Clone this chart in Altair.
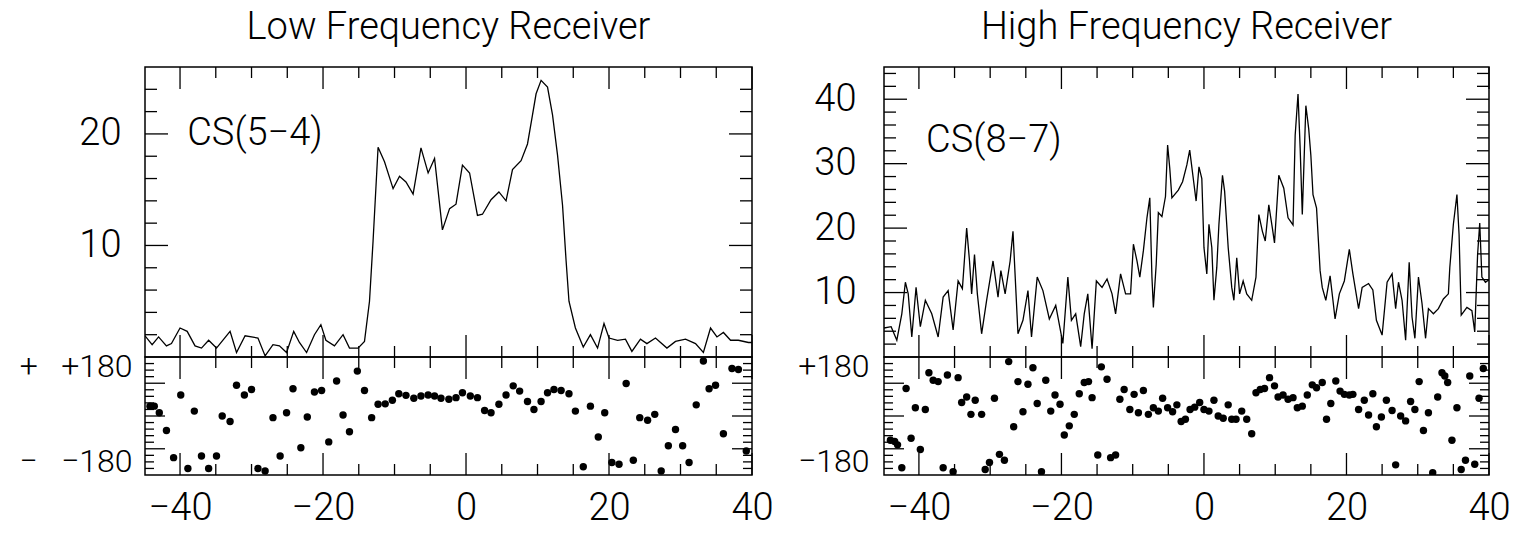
import altair as alt
import pandas as pd

FONT = "Roboto"
FW = 300

# ---------------- Low Frequency Receiver : CS(5-4) ----------------
lf_vel = [-44.9, -43.9, -43.0, -41.9, -41.2, -40.0, -39.0, -37.9, -37.0, -36.0,
          -34.9, -33.0, -32.1, -30.9, -29.1, -28.1, -27.0, -26.1, -25.1, -24.1,
          -23.3, -22.3, -21.2, -20.3, -19.6, -18.4, -17.2, -16.3, -15.1, -14.2,
          -13.5, -13.0, -12.3, -11.4, -10.2, -9.3, -8.4, -7.4, -6.3, -5.3,
          -4.4, -3.3, -2.3, -1.4, -0.5, 0.5, 1.6, 2.3, 3.5, 4.6,
          5.6, 6.5, 7.7, 8.6, 9.3, 9.8, 10.5, 11.4, 12.1, 12.8,
          13.5, 14.0, 14.4, 15.3, 16.4, 17.4, 18.4, 19.3, 20.0, 21.2,
          22.3, 23.2, 24.4, 25.3, 26.5, 28.1, 29.3, 30.7, 32.1, 33.2,
          34.2, 35.1, 36.0, 37.0, 38.1, 39.5, 40.0]
lf_temp = [1.9, 1.1, 1.8, 1.0, 1.2, 2.6, 2.3, 1.0, 0.8, 1.5,
           0.8, 2.3, 0.4, 1.9, 1.7, 0.1, 1.1, 1.0, 0.4, 2.3,
           1.3, 0.4, 2.0, 2.9, 1.5, 1.0, 2.0, 0.8, 0.8, 1.4,
           5.0, 10.4, 18.8, 17.5, 15.1, 16.2, 15.7, 14.6, 18.75, 16.5,
           17.8, 11.4, 13.3, 13.7, 17.2, 16.5, 12.7, 12.8, 14.1, 14.8,
           14.0, 16.8, 17.6, 19.1, 21.7, 23.6, 24.8, 24.2, 21.7, 18.1,
           13.6, 8.6, 5.0, 2.6, 0.9, 2.0, 0.8, 3.0, 1.7, 1.5,
           1.6, 0.5, 1.6, 1.2, 1.7, 0.8, 1.4, 1.6, 1.2, 0.4,
           2.6, 1.8, 2.2, 1.5, 1.5, 1.3, 1.3]

lf_ph_vel = [-44.2, -43.6, -42.9, -41.9, -40.9, -39.9, -38.9, -38.0, -37.0, -36.0,
             -34.9, -34.1, -33.0, -32.1, -31.0, -30.0, -29.1, -28.1, -27.0, -26.0,
             -25.1, -24.2, -23.1, -22.2, -21.2, -20.2, -19.2, -18.1, -17.2, -16.3,
             -15.2, -14.2, -13.2, -12.3, -11.3, -10.3, -9.4, -8.4, -7.3, -6.3,
             -5.3, -4.4, -3.5, -2.4, -1.4, -0.5, 0.6, 1.6, 2.6, 3.5,
             4.6, 5.6, 6.6, 7.5, 8.6, 9.5, 10.5, 11.4, 12.3, 13.3,
             14.4, 15.3, 16.4, 17.4, 18.5, 19.4, 20.4, 21.4, 22.4, 23.4,
             24.3, 25.4, 26.4, 27.3, 28.3, 29.3, 30.3, 31.2, 32.2, 33.2,
             34.0, 34.9, 36.0, 37.2, 38.1, 39.2]
lf_phase = [30, 30, 10, -44, -127, 64, -160, 15, -122, -160,
            -122, 0, -17, 94, 64, 81, -160, -168, -5, -122,
            10, 83, -97, -3, 73, 78, -79, 107, 3, -48,
            137, 78, -5, 36, 37, 48, 68, 63, 54, 61,
            64, 61, 54, 51, 56, 71, 61, 56, 17, 10,
            36, 64, 92, 76, 44, 20, 44, 71, 81, 78,
            68, 15, -155, 30, -64, 10, -142, -147, 99, -135,
            -5, -13, 5, -168, -91, -41, -91, -142, 34, 168,
            83, 94, -54, 145, 142, -107]

# ---------------- High Frequency Receiver : CS(8-7) ----------------
hf_vel = [-44.9, -43.9, -43.1, -42.4, -41.9, -41.5, -41.0, -40.4, -39.8, -39.1,
          -38.2, -37.3, -36.6, -35.9, -35.2, -34.5, -33.9, -33.3, -32.9, -32.6,
          -32.2, -31.8, -31.2, -30.5, -29.6, -28.9, -28.5, -27.9, -27.2, -26.8,
          -26.1, -25.4, -24.7, -24.2, -23.4, -22.6, -21.7, -20.8, -19.8, -19.1,
          -18.6, -18.0, -17.3, -16.8, -16.3, -15.7, -15.1, -14.3, -13.6, -12.9,
          -12.4, -11.7, -11.0, -10.3, -9.9, -9.4, -9.0, -8.5, -8.0, -7.6,
          -7.3, -7.1, -6.7, -6.4, -5.9, -5.4, -5.1, -4.8, -4.5, -3.6,
          -3.0, -2.4, -2.0, -1.5, -1.1, -0.7, -0.3, 0.0, 0.4, 0.7,
          1.1, 1.4, 1.8, 2.1, 2.6, 2.9, 3.4, 3.9, 4.2, 4.6,
          5.0, 5.5, 6.0, 6.7, 7.3, 7.7, 8.2, 8.6, 9.1, 9.6,
          9.9, 10.5, 11.2, 11.8, 12.5, 12.8, 13.2, 13.5, 13.8, 14.3,
          14.7, 15.0, 15.3, 15.8, 16.3, 16.6, 17.1, 17.7, 18.1, 18.4,
          19.0, 19.7, 20.4, 20.9, 21.7, 22.2, 23.1, 23.7, 24.2, 25.0,
          25.7, 26.4, 26.9, 27.3, 27.8, 28.3, 28.8, 29.2, 29.6, 30.1,
          30.6, 31.1, 31.5, 32.2, 32.9, 33.6, 34.3, 34.5, 35.0, 35.5,
          35.8, 36.1, 36.9, 37.6, 38.0, 38.4, 38.7, 39.0, 39.5, 40.0]
hf_temp = [4.5, 4.7, 2.6, 6.7, 11.6, 9.8, 3.1, 10.8, 4.7, 8.8,
           6.7, 3.1, 9.3, 10.3, 4.2, 11.8, 10.6, 20.0, 14.9, 9.8,
           15.9, 9.8, 3.6, 8.8, 14.9, 9.3, 13.4, 9.8, 14.9, 19.5,
           3.6, 5.7, 10.3, 3.1, 12.4, 10.3, 5.9, 8.0, 2.1, 12.4,
           5.7, 6.7, 1.6, 6.7, 9.8, 1.3, 11.8, 10.8, 12.1, 9.8,
           6.7, 12.9, 9.8, 9.8, 17.5, 14.9, 12.4, 16.5, 21.6, 24.7,
           12.4, 7.7, 14.4, 22.4, 21.8, 24.9, 32.9, 29.3, 24.7, 25.9,
           27.2, 29.8, 32.1, 27.7, 24.2, 29.5, 27.7, 17.0, 12.9, 20.6,
           17.0, 8.8, 13.9, 20.6, 28.2, 25.7, 17.0, 10.8, 8.8, 15.4,
           9.8, 11.8, 9.8, 8.8, 12.4, 22.1, 19.5, 18.0, 23.6, 20.0,
           17.7, 28.2, 26.2, 21.6, 20.5, 34.4, 40.8, 32.4, 22.1, 39.0,
           35.4, 31.3, 25.2, 23.1, 13.4, 10.8, 8.8, 12.6, 8.8, 5.9,
           9.8, 11.8, 16.7, 12.9, 7.5, 10.8, 11.4, 10.4, 5.7, 3.4,
           11.6, 12.9, 7.5, 11.6, 8.8, 2.6, 14.7, 6.2, 2.9, 12.4,
           8.3, 2.9, 7.5, 6.7, 7.5, 9.0, 9.8, 13.9, 20.6, 25.2,
           19.0, 6.5, 7.7, 7.2, 3.9, 15.9, 20.8, 12.4, 11.6, 12.0]

hf_ph_vel = [-44.0, -43.4, -43.0, -42.4, -41.8, -41.1, -40.5, -39.8, -39.1, -38.6,
             -38.0, -37.3, -36.6, -36.0, -35.2, -34.5, -34.0, -33.3, -32.7, -32.1,
             -31.2, -30.7, -30.1, -29.4, -28.7, -28.0, -27.4, -26.7, -26.1, -25.4,
             -24.7, -24.0, -23.4, -22.8, -22.2, -21.5, -20.9, -20.2, -19.6, -18.9,
             -18.2, -17.5, -16.8, -16.2, -15.7, -14.9, -14.4, -13.6, -13.1, -12.4,
             -11.8, -11.2, -10.4, -9.8, -9.2, -8.5, -7.8, -7.1, -6.4, -5.8,
             -5.1, -4.4, -3.8, -3.2, -2.6, -1.95, -1.3, -0.6, 0.0, 0.7,
             1.4, 2.0, 2.7, 3.4, 3.9, 4.5, 5.3, 6.0, 6.7, 7.3,
             7.9, 8.5, 9.2, 9.9, 10.4, 11.1, 11.8, 12.5, 13.1, 13.8,
             14.5, 15.2, 15.8, 16.6, 17.2, 17.8, 18.5, 19.1, 19.7, 20.4,
             20.9, 21.7, 22.5, 23.1, 23.7, 24.2, 24.9, 25.6, 26.4, 26.9,
             27.6, 28.3, 29.0, 29.6, 30.2, 30.8, 31.5, 32.1, 32.8, 33.4,
             33.8, 34.2, 34.8, 35.5, 36.1, 36.7, 37.3, 38.0, 38.6, 39.2]
hf_phase = [-74, -78, -88, -158, 84, -68, 25, -102, 20, 132,
            109, 105, -158, 125, -170, 117, 41, 58, 5, 48,
            5, -163, -142, 54, -117, -135, 166, -33, 105, 13,
            97, 147, 38, -170, 109, 15, 64, 36, -58, -30,
            5, 68, 102, 105, 56, -119, 150, 112, -127, -119,
            51, 81, 20, 66, 10, 78, 5, 25, 15, 54,
            25, 13, 34, -17, -10, 20, 27, 41, 20, 15,
            48, 0, -7, 34, -10, -10, 15, -10, -54, 71,
            81, 84, 117, 92, 58, 64, 51, 56, 25, 30,
            64, 95, 86, 102, -10, 38, 107, 76, 66, 64,
            66, 20, 48, 3, 68, -33, -3, 48, 17, -149,
            0, -15, 44, 20, 105, -44, 10, -173, 58, 132,
            122, 102, -74, 25, -163, -135, 122, -147, 54, 145]

# ---------------- axes / ticks ----------------
X_DOMAIN = [-44.9, 40.0]
X_LABELS = [-40, -20, 0, 20, 40]
X_MAJOR = [-40, -20, 0, 20, 40]
X_MINOR = [-35, -30, -25, -15, -10, -5, 5, 10, 15, 25, 30, 35]

PH_DOMAIN = [-180, 180]
PH_LABELS = [-180, 180]
PH_MAJOR = [-100, 0, 100]
PH_MINOR = [-160, -140, -120, -80, -60, -40, -20, 20, 40, 60, 80, 120, 140, 160]

LF_DOMAIN = [0, 26]
LF_LABELS = [10, 20]
LF_MAJOR = [10, 20]
LF_MINOR = [2, 4, 6, 8, 12, 14, 16, 18, 22, 24]

HF_DOMAIN = [0, 45]
HF_LABELS = [10, 20, 30, 40]
HF_MAJOR = [10, 20, 30, 40]
HF_MINOR = [2, 4, 6, 8, 12, 14, 16, 18, 22, 24, 26, 28, 32, 34, 36, 38, 42, 44]

W_L, W_R, H_UP, H_LO = 607, 605, 290, 118
TICK_W = 1.3


def tick_frame(xdom, ydom, W, H, xmaj, xmin, ymaj, ymin,
               xl_maj, xl_min, yl_maj, yl_min, yname):
    """Inward tick marks on all four edges, expressed in data units."""
    x0, x1 = xdom
    y0, y1 = ydom
    dy = (y1 - y0) / H      # data units per pixel (vertical)
    dx = (x1 - x0) / W      # data units per pixel (horizontal)
    rows = []
    for vals, ln in ((xmaj, xl_maj), (xmin, xl_min)):
        for v in vals:
            rows.append((v, v, y1, y1 - ln * dy))   # top edge
            rows.append((v, v, y0, y0 + ln * dy))   # bottom edge
    for vals, ln in ((ymaj, yl_maj), (ymin, yl_min)):
        for v in vals:
            rows.append((x0, x0 + ln * dx, v, v))   # left edge
            rows.append((x1, x1 - ln * dx, v, v))   # right edge
    return pd.DataFrame(rows, columns=["vel", "vel2", yname, yname + "2"])


def panel(title, label, label_y, vel, temp, ph_vel, phase, ydom, ylabels,
          ymajor, yminor, W, up_pad, lo_pad, lo_expr):
    xs = alt.Scale(domain=X_DOMAIN, nice=False, zero=False)
    ys = alt.Scale(domain=ydom, nice=False, zero=False)
    ps = alt.Scale(domain=PH_DOMAIN, nice=False, zero=False)

    ya = alt.Axis(values=ylabels, ticks=False, domain=False, grid=False,
                  title=None, labelPadding=up_pad, labelFontSize=38,
                  format="d")
    pa = alt.Axis(values=PH_LABELS, ticks=False, domain=False, grid=False,
                  title=None, labelPadding=lo_pad, labelFontSize=32,
                  labelFlush=True, labelExpr=lo_expr,
                  labelOffset={"condition": {"test": "datum.value > 0",
                                             "value": -6},
                               "value": 3})
    xa_lo = alt.Axis(values=X_LABELS, ticks=False, domain=False, grid=False,
                     title=None, labelPadding=14, labelFontSize=38,
                     labelFlush=False)

    spec = pd.DataFrame({"vel": vel, "T": temp})
    line = alt.Chart(spec).mark_line(color="black", strokeWidth=1.3,
                                     clip=True).encode(
        x=alt.X("vel:Q", scale=xs, axis=None),
        y=alt.Y("T:Q", scale=ys, axis=ya))
    lab = alt.Chart(pd.DataFrame({"vel": [-39.0], "T": [label_y],
                                  "txt": [label]})).mark_text(
        align="left", baseline="middle", fontSize=38, font=FONT,
        fontWeight=FW, color="black").encode(
        x=alt.X("vel:Q", scale=xs, axis=None),
        y=alt.Y("T:Q", scale=ys, axis=ya), text="txt:N")
    up_ticks = alt.Chart(tick_frame(X_DOMAIN, ydom, W, H_UP, X_MAJOR, X_MINOR,
                                    ymajor, yminor, 22, 11, 23, 12, "T")
                         ).mark_rule(color="black", strokeWidth=TICK_W).encode(
        x=alt.X("vel:Q", scale=xs, axis=None), x2="vel2:Q",
        y=alt.Y("T:Q", scale=ys, axis=ya), y2="T2:Q")
    upper = alt.layer(line, lab, up_ticks).properties(
        width=W, height=H_UP,
        title=alt.TitleParams(title, fontSize=38, font=FONT, fontWeight=FW,
                              color="black", anchor="middle", frame="group",
                              offset=19))

    ph = pd.DataFrame({"vel": ph_vel, "phase": phase})
    pts = alt.Chart(ph).mark_circle(color="black", size=55, opacity=1,
                                    clip=True).encode(
        x=alt.X("vel:Q", scale=xs, axis=xa_lo),
        y=alt.Y("phase:Q", scale=ps, axis=pa))
    lo_ticks = alt.Chart(tick_frame(X_DOMAIN, PH_DOMAIN, W, H_LO, X_MAJOR,
                                    X_MINOR, PH_MAJOR, PH_MINOR, 22, 11, 20, 9,
                                    "phase")
                         ).mark_rule(color="black", strokeWidth=TICK_W).encode(
        x=alt.X("vel:Q", scale=xs, axis=xa_lo), x2="vel2:Q",
        y=alt.Y("phase:Q", scale=ps, axis=pa), y2="phase2:Q")
    lower = alt.layer(pts, lo_ticks).properties(width=W, height=H_LO)
    return alt.vconcat(upper, lower, spacing=0, bounds="flush")


NB = "\u00a0"
left = panel("Low Frequency Receiver", "CS(5\u22124)", 20.0,
             lf_vel, lf_temp, lf_ph_vel, lf_phase,
             LF_DOMAIN, LF_LABELS, LF_MAJOR, LF_MINOR, W_L, 24, 13,
             f"datum.value > 0 ? '+{NB*3}+180' : '\u2212{NB*3}\u2212180'")
right = panel("High Frequency Receiver", "CS(8\u22127)", 33.5,
              hf_vel, hf_temp, hf_ph_vel, hf_phase,
              HF_DOMAIN, HF_LABELS, HF_MAJOR, HF_MINOR, W_R, 28, 15,
              "datum.value > 0 ? '+180' : '\u2212180'")

chart = alt.hconcat(left, right, spacing=22).properties(
    padding={"left": 18, "top": 8, "right": 0, "bottom": 0},
    background="white",
).configure_view(stroke="black", strokeWidth=1.5).configure_axis(
    labelFont=FONT, labelFontWeight=FW, labelColor="black"
)

chart.save("out.html", embed_options={"renderer": "svg", "actions": False})
